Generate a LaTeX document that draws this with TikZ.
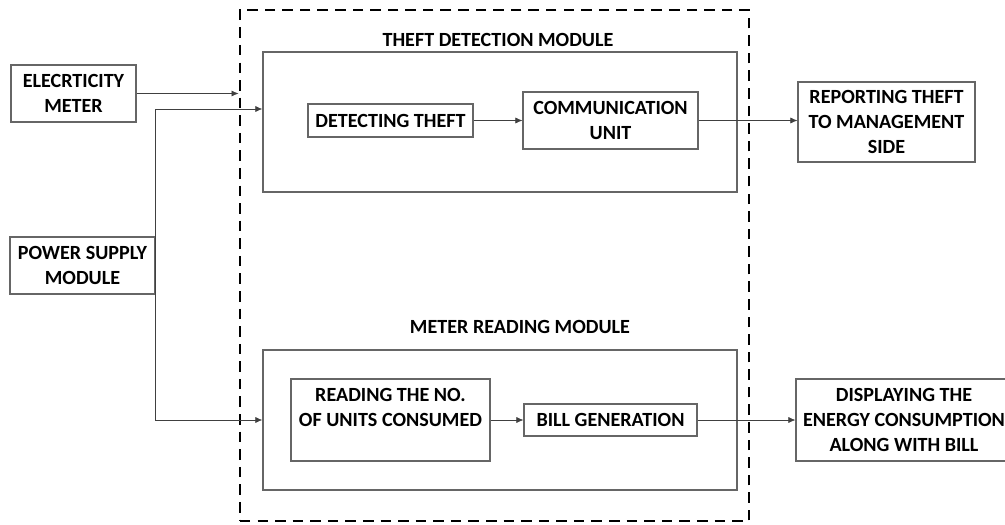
\documentclass[tikz,border=0pt]{standalone}
\usepackage{fontspec}
\setmainfont{Carlito}
\usetikzlibrary{arrows.meta,positioning,calc}

\begin{document}
\begin{tikzpicture}[x=0.025cm, y=-0.025cm, >={Latex[length=5pt,width=4.4pt]},
    blk/.style={draw=black!60, line width=0.8pt, align=center, inner sep=0pt, font=\bfseries\fontsize{14.3}{17.8}\selectfont},
    modbox/.style={draw=black!60, line width=0.9pt, minimum width=11.85cm, minimum height=3.5cm},
    title/.style={font=\bfseries\fontsize{14.3}{17.8}\selectfont},
    link/.style={->, draw=black!75, line width=0.5pt}]
    \clip (0,0) rectangle (1005,525);
    % Outer frame
    \node[draw, dash pattern=on 7.5pt off 5pt, line width=2pt, minimum width=12.725cm, minimum height=12.775cm] (outer) at (494.5,265.5) {};
    % Modules
    \node[title] (ttitle) at (498,40) {THEFT DETECTION MODULE};
    \node[modbox] (theft) at (500,122) {};
    \node[title] (mtitle) at (520,327) {METER READING MODULE};
    \node[modbox] (meter) at (500,420) {};
    % Inputs
    \node[blk, minimum width=3.125cm, minimum height=1.425cm] (elec) at (73.5,93.5) {ELECRTICITY\\METER};
    \node[blk, minimum width=3.625cm, minimum height=1.425cm] (psm) at (82.5,265.5) {POWER SUPPLY\\MODULE};
    % Inner blocks
    \node[blk, minimum width=4.125cm, minimum height=0.825cm] (detect) at (390.5,120.5) {DETECTING THEFT};
    \node[blk, minimum width=4.375cm, minimum height=1.425cm] (comm) at (610.5,120.5) {COMMUNICATION\\UNIT};
    \node[blk, minimum width=4.975cm, minimum height=2.05cm] (reading) at (390.5,420) {READING THE NO.\\OF UNITS CONSUMED\\~};
    \node[blk, minimum width=4.325cm, minimum height=0.8cm] (bill) at (610.5,420) {BILL GENERATION};
    % Outputs
    \node[blk, minimum width=4.425cm, minimum height=2cm] (report) at (886.5,122) {REPORTING THEFT\\TO MANAGEMENT\\SIDE};
    \node[blk, minimum width=5.4cm, minimum height=2.05cm] (display) at (904,420) {DISPLAYING THE\\ENERGY CONSUMPTION\\ALONG WITH BILL};
    % Arrows
    \draw[link] (elec) -- (elec -| outer.west);
    \draw[link] (psm.north east) |- ([yshift=0.325cm]theft.west);
    \draw[link] (psm.north east) |- (meter.west);
    \draw[link] (detect) -- (comm);
    \draw[link] (comm.east) -- (comm.east -| report.west);
    \draw[link] (reading) -- (bill);
    \draw[link] (bill) -- (display);
\end{tikzpicture}
\end{document}
